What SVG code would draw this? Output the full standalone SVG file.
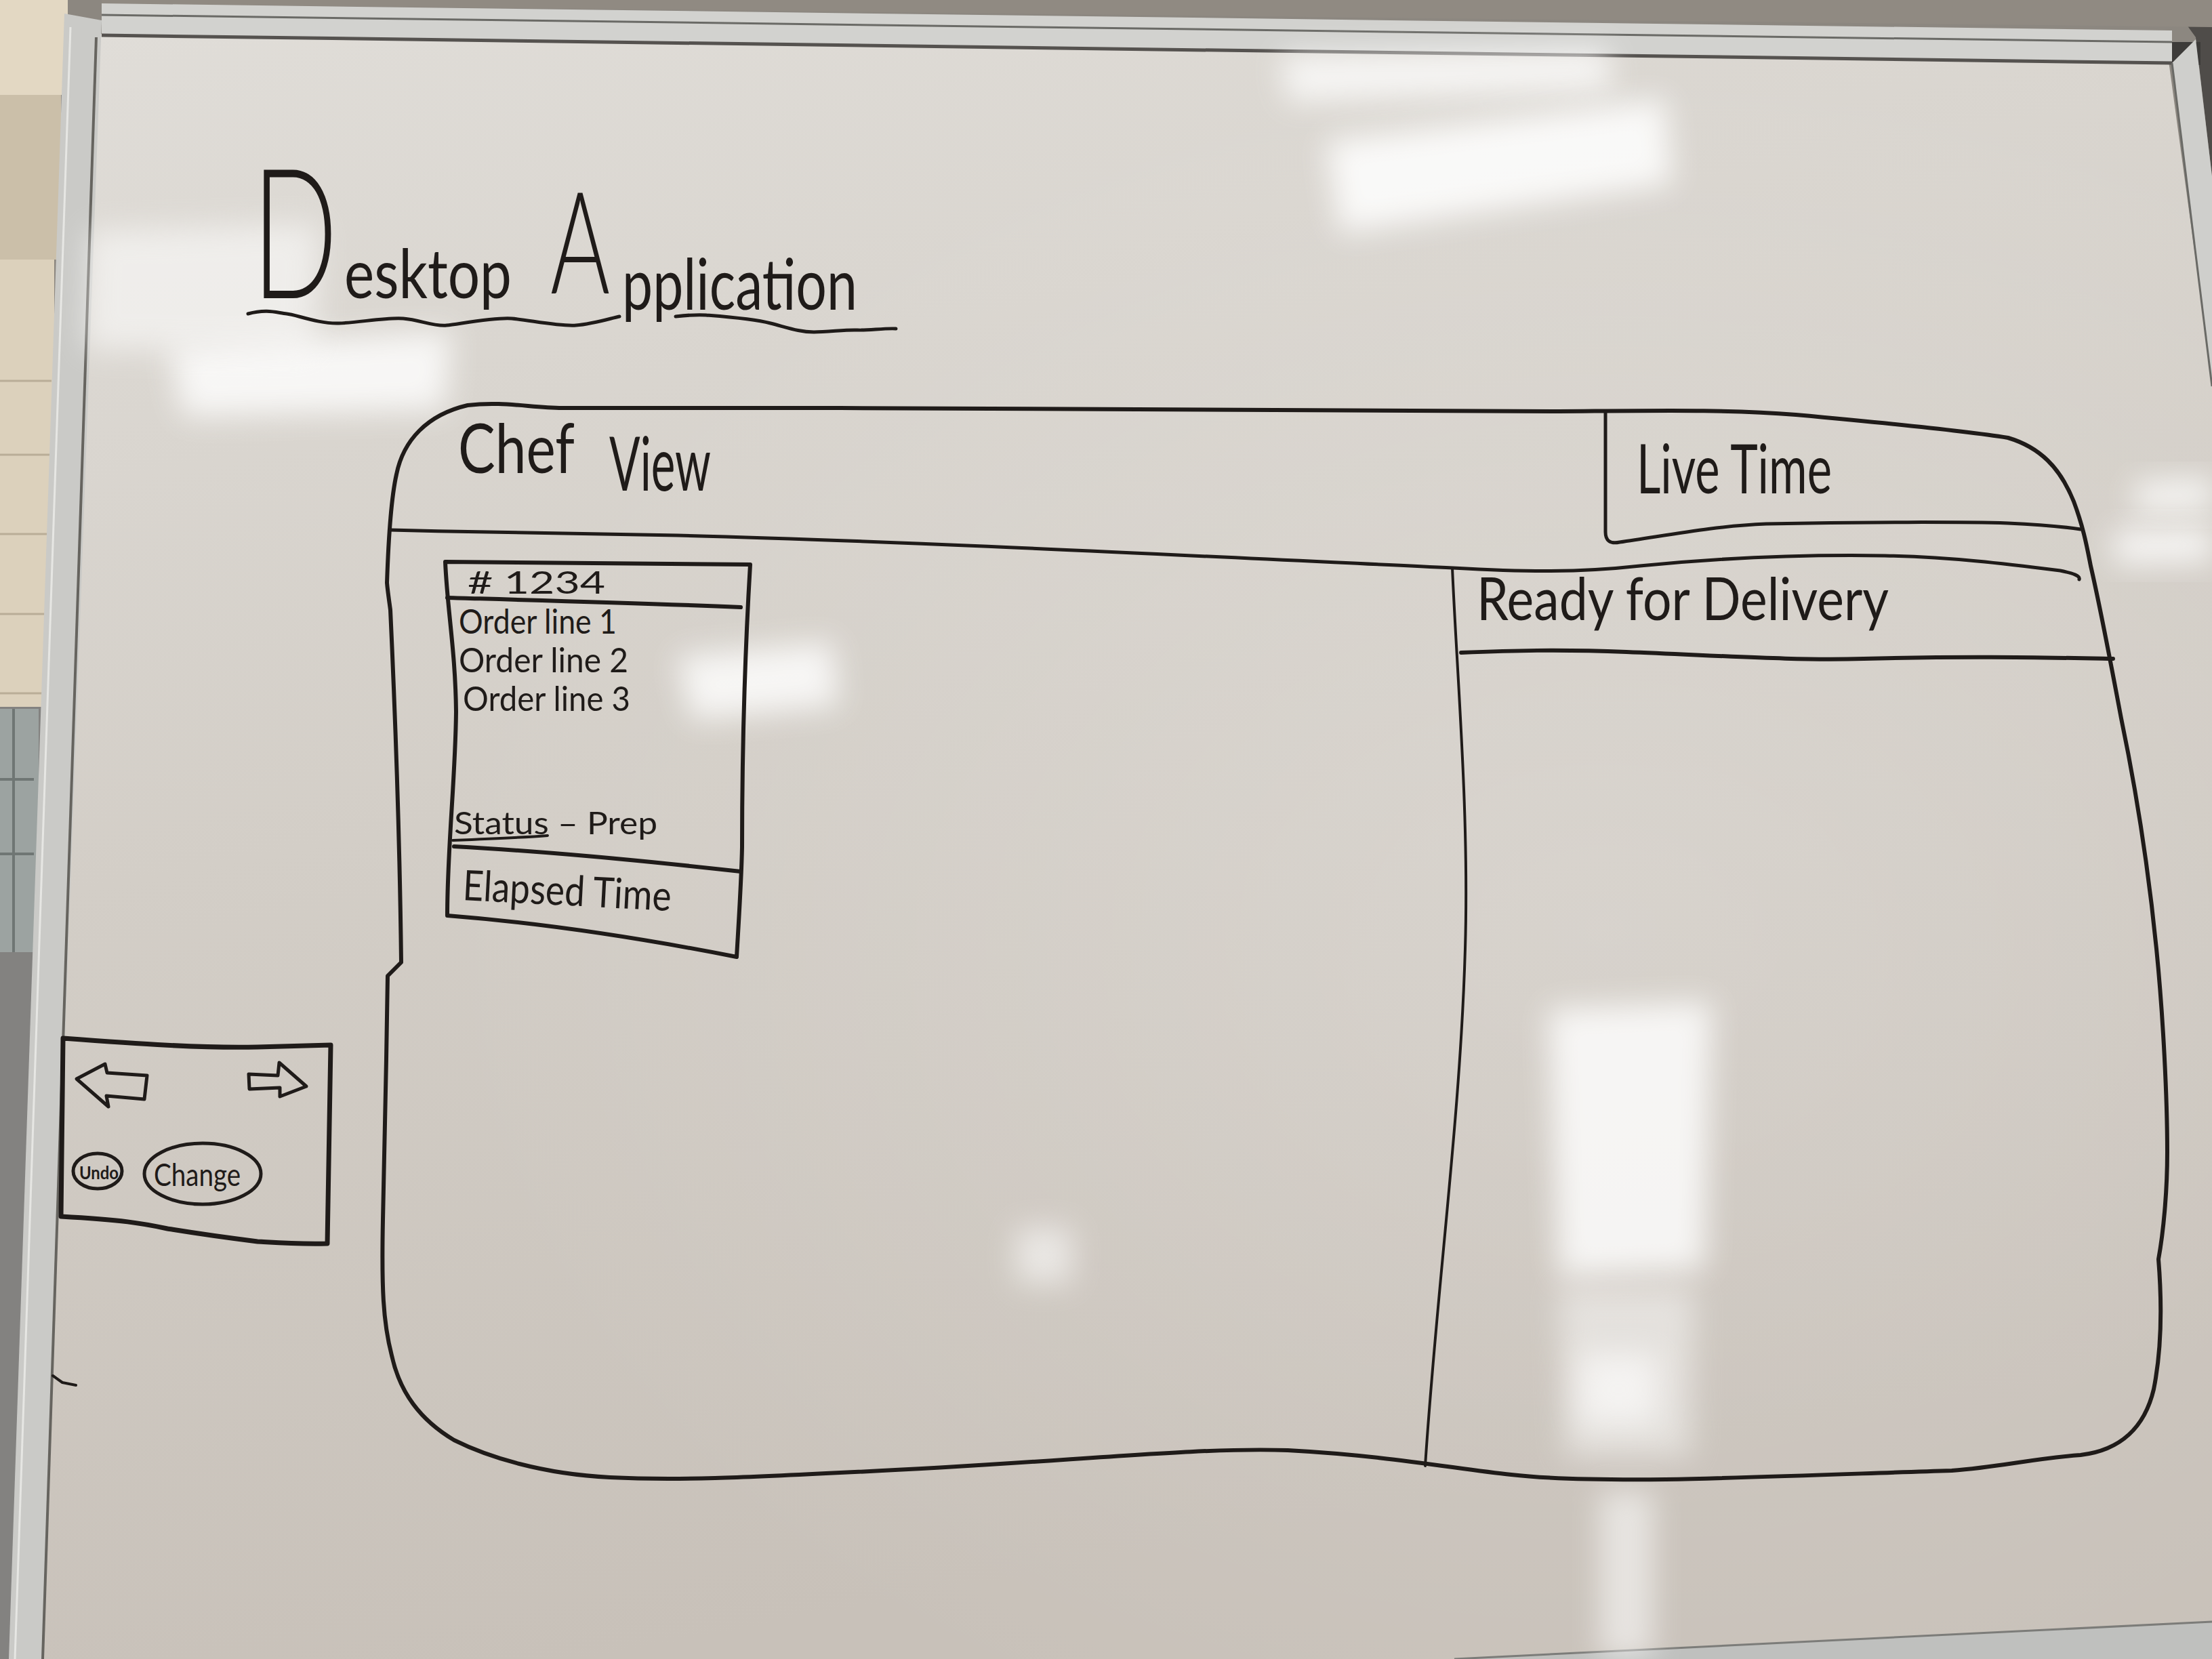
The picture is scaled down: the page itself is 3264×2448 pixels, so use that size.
<svg xmlns="http://www.w3.org/2000/svg" width="3264" height="2448" viewBox="0 0 3264 2448">
<defs>
<linearGradient id="board" x1="0" y1="0" x2="0.25" y2="1">
<stop offset="0" stop-color="#e0ddd8"/>
<stop offset="0.5" stop-color="#d3cec7"/>
<stop offset="1" stop-color="#c8c1b9"/>
</linearGradient>
<radialGradient id="glow" cx="0.72" cy="0.55" r="0.55">
<stop offset="0" stop-color="#ffffff" stop-opacity="0.18"/>
<stop offset="1" stop-color="#ffffff" stop-opacity="0"/>
</radialGradient>
<filter id="blur" x="-50%" y="-50%" width="200%" height="200%">
<feGaussianBlur stdDeviation="22"/>
</filter>
</defs>
<style>
.ink{fill:none;stroke:#1f1b19;stroke-linecap:round;stroke-linejoin:round}
.w7{stroke-width:7}
.w6{stroke-width:6}
.w5{stroke-width:5}
.w4{stroke-width:4}
.t{font-family:"Lato","Liberation Sans",Arial,sans-serif;fill:#1f1b19}
.lt{font-weight:300}
.refl{fill:#ffffff;filter:url(#blur)}
</style>

<!-- background: ceiling, wall, frame -->
<g id="background">
<rect x="0" y="0" width="3264" height="2448" fill="#8c8780"/>
<rect x="0" y="0" width="100" height="140" fill="#e3d8c3"/>
<rect x="0" y="140" width="90" height="243" fill="#cbbfa9"/>
<rect x="0" y="383" width="80" height="660" fill="#dcd1bc"/>
<g stroke="#b9ad97" stroke-width="3">
<line x1="0" y1="562" x2="76" y2="562"/>
<line x1="0" y1="671" x2="74" y2="671"/>
<line x1="0" y1="788" x2="71" y2="788"/>
<line x1="0" y1="906" x2="68" y2="906"/>
<line x1="0" y1="1023" x2="65" y2="1023"/>
</g>
<rect x="0" y="1043" width="70" height="1405" fill="#838280"/>
<path d="M0,1046 L57,1046 L57,1405 L0,1405 Z" fill="#9ca3a1"/>
<path d="M0,1150 L50,1150 M0,1260 L50,1260 M20,1046 L20,1405" stroke="#6f7674" stroke-width="4" fill="none"/>
<path d="M3200,0 L3264,0 L3264,260 L3240,55 Z" fill="#4f4c49"/>
<path d="M150,0 L3264,0 L3264,40 L150,5 Z" fill="#908a82"/>
<!-- board surface -->
<path d="M140,50 L3200,90 L3264,560 L3264,2448 L63,2448 Z" fill="url(#board)"/>
<path d="M140,50 L3200,90 L3264,560 L3264,2448 L63,2448 Z" fill="url(#glow)"/>
<!-- top frame -->
<path d="M150,5 L3205,45 L3205,93 L150,52 Z" fill="#d2d2cf"/>
<path d="M150,22 L3205,62" stroke="#6a6a66" stroke-width="3" fill="none"/>
<path d="M150,52 L3205,93" stroke="#55524f" stroke-width="5" fill="none"/>
<path d="M3205,62 L3247,62 L3247,96 L3205,96 Z" fill="#3d3b39"/>
<!-- right frame -->
<path d="M3205,93 L3240,58 L3264,260 L3264,570 Z" fill="#cfcfcc"/>
<path d="M3205,93 L3264,570" stroke="#6a6a66" stroke-width="3" fill="none"/>
<!-- left frame -->
<path d="M95,20 L150,30 L63,2448 L13,2448 Z" fill="#cacac7"/>
<path d="M142,55 L63,2448" stroke="#66645f" stroke-width="4" fill="none"/>
<path d="M104,40 L22,2448" stroke="#e6e6e3" stroke-width="3" fill="none"/>
<!-- bottom tray -->
<path d="M2146,2448 L3264,2393 L3264,2448 Z" fill="#bfc0be"/>
<path d="M2146,2448 L3264,2393" stroke="#7c7c79" stroke-width="3" fill="none"/>
<!-- reflections -->
<path class="refl" opacity="0.75" d="M1890,82 L2370,72 L2380,132 L1900,150 Z"/>
<path class="refl" opacity="0.85" d="M1957,208 L2456,146 L2467,271 L1977,343 Z"/>
<path class="refl" opacity="0.8" d="M250,512 L666,489 L656,604 L270,614 Z"/>
<path class="refl" opacity="0.55" d="M130,340 L470,330 L465,520 L125,515 Z"/>
<path class="refl" opacity="0.8" d="M999,968 L1228,947 L1238,1041 L1020,1062 Z"/>
<path class="refl" opacity="0.8" d="M2285,1488 L2525,1478 L2515,1873 L2300,1884 Z"/>
<path class="refl" opacity="0.45" d="M2300,1900 L2500,1900 L2495,2150 L2310,2150 Z"/>
<path class="refl" opacity="0.6" d="M2331,1998 L2446,1998 L2446,2102 L2331,2102 Z"/>
<path class="refl" opacity="0.55" d="M2360,2200 L2440,2200 L2440,2448 L2360,2448 Z"/>
<path class="refl" opacity="0.55" d="M1499,1811 L1582,1811 L1582,1894 L1499,1894 Z"/>
<path class="refl" opacity="0.8" d="M3150,712 L3264,706 L3264,752 L3150,755 Z"/>
<path class="refl" opacity="0.8" d="M3120,782 L3264,778 L3264,828 L3120,832 Z"/>
</g>

<!-- title -->
<g id="title">
<text class="t lt" x="0" y="0" font-size="268" transform="translate(372,440) scale(0.62,1)">D</text>
<text class="t" x="508" y="440" font-size="100" textLength="247" lengthAdjust="spacingAndGlyphs">esktop</text>
<text class="t lt" x="0" y="0" font-size="210" transform="translate(812,433) scale(0.64,1)">A</text>
<text class="t" x="918" y="457" font-size="104" textLength="347" lengthAdjust="spacingAndGlyphs">pplication</text>
<path class="ink w5" d="M366,463 C395,455 410,462 423,463 S470,478 500,477 S570,468 595,470 S640,482 659,480 S730,468 755,470 S825,482 850,480 S900,470 914,467"/>
<path class="ink w5" d="M997,467 C1015,465 1030,464 1042,465 S1110,470 1137,477 S1180,490 1201,490 S1250,486 1265,487 S1305,484 1322,485"/>
</g>

<!-- main application frame -->
<g id="main-frame">
<path class="ink w6" d="M571,860 C573,800 576,740 585,700 C595,650 630,612 690,598 C740,592 780,601 830,602 L1240,602 C1700,604 2100,607 2300,607 C2450,606 2550,604 2650,612 C2760,622 2900,636 2963,646 C3010,660 3040,690 3060,740 C3075,780 3080,810 3085,835 C3100,900 3115,980 3130,1060 C3155,1180 3172,1300 3182,1400 C3192,1500 3198,1620 3198,1700 C3198,1760 3192,1820 3185,1858 C3190,1920 3190,1990 3178,2050 C3165,2105 3130,2140 3070,2147 C3000,2152 2950,2165 2880,2170 C2750,2174 2600,2180 2458,2183 C2350,2184 2280,2182 2230,2176 C2150,2168 2050,2148 1900,2140 C1750,2135 1550,2160 1240,2173 C1100,2180 1000,2185 900,2180 C800,2175 720,2150 670,2125 C620,2095 590,2055 578,2000 C565,1950 563,1900 565,1800 C568,1700 570,1560 572,1440 L592,1420 C590,1250 583,1050 576,900 C574,885 572,872 571,860 Z"/>
</g>

<!-- header bar -->
<g id="header">
<path class="ink w5" d="M576,782 C700,785 800,787 1000,790 C1300,797 1800,822 2144,838 C2250,844 2330,845 2420,835 C2520,825 2650,818 2781,820 C2880,822 2960,832 3040,842 C3060,846 3070,850 3068,855"/>
<text class="t" x="676" y="698" font-size="100" textLength="172" lengthAdjust="spacingAndGlyphs">Chef</text>
<text class="t" x="899" y="724" font-size="110" textLength="150" lengthAdjust="spacingAndGlyphs">View</text>
</g>

<!-- live time box -->
<g id="live-time">
<path class="ink w5" d="M2369,607 L2369,785 C2369,798 2376,803 2390,800 C2460,790 2530,776 2606,773 C2750,770 2900,770 2963,772 C3010,774 3050,778 3070,781"/>
<text class="t" x="2415" y="728" font-size="100" textLength="288" lengthAdjust="spacingAndGlyphs">Live Time</text>
</g>

<!-- ready for delivery column -->
<g id="ready-column">
<path class="ink w4" d="M2143,838 C2150,1000 2168,1200 2162,1400 C2155,1650 2120,1900 2103,2163"/>
<path class="ink w6" d="M2156,963 C2230,960 2300,958 2400,962 C2550,968 2650,975 2750,972 C2900,968 3000,970 3118,972"/>
<text class="t" x="2179" y="915" font-size="88" textLength="608" lengthAdjust="spacingAndGlyphs">Ready for Delivery</text>
</g>

<!-- order card -->
<g id="order-card">
<path class="ink w6" d="M657,829 C800,829 950,831 1107,833 C1100,950 1095,1100 1095,1250 C1094,1300 1090,1360 1087,1412 C950,1385 800,1362 660,1351 C660,1250 672,1150 673,1050 C672,960 660,900 657,829 Z"/>
<path class="ink w6" d="M660,882 C800,886 950,890 1093,896"/>
<path class="ink w6" d="M670,1249 C800,1256 950,1270 1093,1286"/>
<path class="ink w4" d="M668,1240 C720,1238 770,1236 808,1233"/>
<text class="t" x="690" y="876" font-size="46" textLength="203" lengthAdjust="spacingAndGlyphs"># 1234</text>
<text class="t" x="677" y="935" font-size="50" textLength="233" lengthAdjust="spacingAndGlyphs">Order line 1</text>
<text class="t" x="677" y="992" font-size="50" textLength="250" lengthAdjust="spacingAndGlyphs">Order line 2</text>
<text class="t" x="683" y="1049" font-size="50" textLength="247" lengthAdjust="spacingAndGlyphs">Order line 3</text>
<text class="t" x="670" y="1231" font-size="46" textLength="300" lengthAdjust="spacingAndGlyphs">Status – Prep</text>
<text class="t" x="682" y="1328" font-size="62" textLength="308" lengthAdjust="spacingAndGlyphs" transform="rotate(3 682 1328)">Elapsed Time</text>
</g>

<!-- navigation panel -->
<g id="nav-panel">
<path class="ink w7" d="M93,1532 C200,1540 300,1547 380,1545 L488,1542 L483,1835 C430,1836 400,1833 380,1832 C300,1822 260,1815 247,1813 C210,1805 180,1800 90,1795 Z"/>
<path class="ink w5" d="M113,1592 L155,1570 L158,1583 L217,1587 L213,1622 L157,1617 L160,1633 Z"/>
<path class="ink w5" d="M367,1585 L410,1587 L412,1568 L452,1603 L413,1618 L413,1605 L368,1607 Z"/>
<ellipse class="ink w5" cx="144" cy="1728" rx="36" ry="26"/>
<text class="t" x="117" y="1740" font-size="26" font-weight="700" textLength="58" lengthAdjust="spacingAndGlyphs">Undo</text>
<ellipse class="ink w5" cx="299" cy="1732" rx="86" ry="45"/>
<text class="t" x="227" y="1750" font-size="46" textLength="128" lengthAdjust="spacingAndGlyphs">Change</text>
</g>
<path class="ink w4" d="M78,2030 L92,2040 L112,2044"/>
</svg>
